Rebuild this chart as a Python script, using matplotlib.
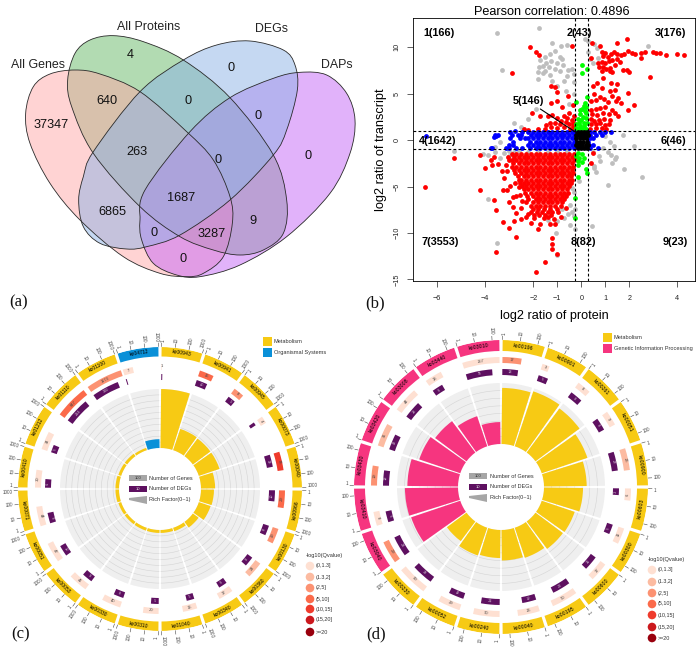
import numpy as np
import matplotlib
matplotlib.use("Agg")
import matplotlib.pyplot as plt
from matplotlib.patches import Rectangle, Polygon, Circle, PathPatch
from matplotlib.path import Path

plt.rcParams['font.family'] = ['Liberation Sans', 'DejaVu Sans']

W, H = 700, 652

# venn
venn_names = ["All Genes", "All Proteins", "DEGs", "DAPs"]
venn_values = [37347, 4, 0, 0, 640, 0, 0, 263, 0, 1687, 6865, 0, 3287, 9, 0]

# scatter - top / side groups as (x, y)
grey_pts = [(-1.75,12.1),(-3.5,11.6),(-1.2,10.5),(-0.85,10.1),(-0.6,10.3),(0.15,10.9),(0.3,10.7),(0.55,10.4),(0.65,9.9),
    (2.8,10.1),(-1.5,9.0),(-1.3,9.3),(-1.1,9.6),(-0.9,9.0),(-0.8,8.7),(-1.7,8.6),(-1.6,8.0),(-1.45,8.3),(-1.25,8.5),
    (-1.0,8.3),(-0.75,8.1),(-1.75,7.9),(-1.5,7.5),(-1.35,7.9),(-1.1,7.7),(-0.9,7.5),(-0.55,7.6),(-0.4,7.7),(-1.8,7.3),
    (-1.6,7.2),(-1.3,7.0),(-0.6,6.9),(-0.3,7.1),(-1.8,6.6),(-1.2,6.4),(-0.7,6.4),(-0.3,6.3),(-1.0,5.8),(-0.65,5.3),
    (-0.3,5.0),(-3.3,7.6),(0.35,8.8),(0.5,8.3),(0.3,9.5),(0.7,8.9),(-2.8,1.9),(-2.2,2.3),(-2.5,1.4),(-1.9,3.4),
    (-0.5,3.9),(1.75,0.6),(2.2,-0.6),(1.0,0.4),(1.2,-0.2),(1.35,-0.6),(0.9,-0.8),(0.5,-1.3),(0.75,-1.7),(1.25,-1.6),
    (1.4,-2.0),(1.3,-2.5),(1.45,-1.8),(0.55,-2.8),(0.8,-2.2),(1.1,-1.3),(1.1,-4.8),(2.55,-4.0),(1.8,-3.1),(0.6,-3.4),
    (-5.3,-1.2),(-4.1,-1.5),(-3.9,-1.6),(-3.6,-1.3),(-3.4,-1.9),(-3.2,-1.4),(-3.0,-1.7),(-2.8,-1.3),(-3.6,-0.7),(-3.4,-0.2),
    (-3.0,-1.2),(-2.6,-1.2),(-2.2,-1.25),(-1.8,-1.2),(-1.4,-1.25),(-1.0,-1.2),(-0.6,-1.2),(-3.9,-6.3),(-3.5,-11.1),
    (-1.0,-12.4),(-1.05,-10.0),(-0.25,-9.6),(0.45,-9.2),(-0.45,-7.0),(-0.4,-7.7),(-0.25,-7.4),(-0.8,-7.4),(-0.55,-8.0),
    (-1.0,-8.7),(-0.45,-9.1),(-0.3,-5.6),(-0.4,-5.2),(-0.1,-4.4),(0.55,-3.0),(-0.7,-8.4),(-1.4,-8.6),(-0.3,-8.2)]

red_pts = [(-2.15,10.0),(-1.9,9.5),(-1.75,9.2),(-0.4,10.2),(-2.9,7.2),(-1.25,5.8),(-1.1,5.7),(-1.0,5.2),(-1.25,4.0),(-1.0,4.2),
    (-0.8,3.6),(-0.55,4.8),(-0.35,3.8),(-2.05,2.9),(-1.7,2.6),(-1.4,2.6),(-1.2,2.7),(-1.0,2.4),(-0.7,2.6),(-0.5,2.9),
    (-0.4,2.2),(-1.3,1.9),(-1.1,1.8),(-0.9,1.7),(-0.65,2.0),(-0.5,1.7),(-0.35,1.5),(-1.25,1.4),(-1.0,1.3),(-0.7,1.4),
    (-0.45,1.2),(-1.5,1.2),(-2.4,1.2),(-2.2,1.1),(-1.8,1.15),(-0.35,1.9),(-0.3,1.2),(-1.45,1.6),(-0.85,2.1),(-0.6,2.4),(-0.3,2.6),
    (0.45,10.5),(0.8,10.2),(1.5,10.5),(1.9,10.9),(0.4,8.9),(0.85,9.5),(0.9,9.1),(1.0,9.4),(1.1,9.0),(1.25,9.3),(1.35,9.5),
    (1.5,9.3),(1.65,9.2),(1.8,9.3),(1.95,9.6),(2.1,9.4),(2.25,9.3),(2.5,9.4),(2.65,9.5),(2.5,8.9),(3.0,9.5),(3.1,9.4),
    (3.3,9.35),(3.55,9.2),(4.0,9.3),(4.3,9.2),(0.7,8.3),(0.85,8.4),(1.0,8.3),(1.15,8.5),(1.3,8.6),(1.5,8.7),(0.75,7.9),
    (0.9,7.9),(1.05,7.7),(1.2,7.8),(1.4,8.1),(1.6,8.4),(0.85,7.5),(1.2,7.5),(1.3,7.4),(1.75,7.6),(1.9,7.6),(2.0,7.4),
    (2.85,6.8),(0.9,6.7),(0.65,6.2),(0.5,5.8),(0.85,5.6),(1.25,6.2),(1.5,6.1),(1.2,5.3),(1.4,5.4),(1.95,5.1),(0.55,5.0),
    (0.4,4.2),(0.6,4.3),(0.8,4.6),(0.95,4.4),(1.1,4.1),(1.3,4.8),(1.45,4.2),(1.55,4.5),(1.65,4.0),(2.2,3.8),(1.95,3.2),
    (0.4,3.2),(0.6,3.4),(0.8,3.5),(1.0,3.6),(1.3,3.3),(1.4,2.9),(1.55,2.6),(0.45,2.8),(0.65,2.7),(0.9,2.9),(1.15,2.8),
    (0.4,2.3),(0.55,2.1),(0.75,2.2),(0.95,2.3),(1.2,2.2),(0.4,1.7),(0.6,1.7),(0.8,1.8),(1.0,1.6),(1.15,1.7),(0.35,1.2),
    (0.6,1.3),(0.85,1.3),(1.05,1.2),(0.5,-1.4),(0.4,-2.5),(-5.3,-1.9),(-6.5,-5.1),(-4.2,-1.6),(-4.0,-3.0),(-3.7,-2.7),
    (-3.65,-1.8),(-3.45,-2.6),(-3.75,-2.1),(-3.15,-2.7),(-3.3,-3.3),(-3.1,-3.3),(-3.2,-4.1),(-4.2,-5.4),(-3.65,-6.4),
    (-3.55,-7.5),(-3.25,-5.4),(-3.1,-5.4),(-3.0,-6.7),(-2.85,-6.1),(-2.7,-6.0),(-2.85,-7.2),(-2.7,-7.9),(-2.5,-7.3),(-3.25,-8.8),
    (-3.0,-9.5),(-2.8,-8.7),(-2.5,-8.5),(-2.7,-10.4),(-3.55,-12.1),(-1.9,-14.2),(-1.5,-13.1),(-1.2,-10.5),(-1.2,-11.2),
    (-1.2,-11.7),(-1.0,-12.3),(-1.8,-9.6),(-1.7,-9.0),(-1.3,-9.0),(-2.3,-8.3),(-2.1,-8.9),(-1.95,-8.4),(-1.55,-8.4),(-1.4,-8.3),
    (-1.15,-8.5),(-0.85,-8.3),(-2.75,-4.6),(-2.95,-4.9),(-2.6,-5.1),(-2.55,-5.9),(-2.45,-6.6),(-1.1,-9.0),(-2.2,-8.0),(-0.65,-7.3)]

# dense part of the red cloud, {y: x values}
red_rows = {
    -1.45: [-2.9,-2.7,-2.5,-2.3,-2.1,-1.9,-1.7,-1.5,-1.3,-1.1,-0.9,-0.7,-0.5,-0.3],
    -1.8: [-3.05,-2.8,-2.6,-2.4,-2.2,-2.0,-1.8,-1.6,-1.4,-1.2,-1.0,-0.8,-0.6,-0.4,-0.28],
    -2.15: [-3.0,-2.9,-2.7,-2.5,-2.3,-2.1,-1.9,-1.7,-1.5,-1.3,-1.1,-0.9,-0.7,-0.5,-0.3],
    -2.5: [-2.85,-2.6,-2.4,-2.2,-2.0,-1.8,-1.6,-1.4,-1.2,-1.0,-0.8,-0.6,-0.4],
    -2.85: [-2.9,-2.7,-2.5,-2.3,-2.1,-1.9,-1.7,-1.5,-1.3,-1.1,-0.9,-0.7,-0.5,-0.33],
    -3.2: [-2.8,-2.6,-2.4,-2.2,-2.0,-1.8,-1.6,-1.4,-1.2,-1.0,-0.8,-0.6,-0.4],
    -3.55: [-2.75,-2.5,-2.3,-2.1,-1.9,-1.7,-1.5,-1.3,-1.1,-0.9,-0.7,-0.5,-0.35],
    -3.9: [-2.65,-2.4,-2.2,-2.0,-1.8,-1.6,-1.4,-1.2,-1.0,-0.8,-0.6,-0.42],
    -4.25: [-2.6,-2.5,-2.3,-2.1,-1.9,-1.7,-1.5,-1.3,-1.1,-0.9,-0.7,-0.5,-0.38],
    -4.6: [-2.55,-2.4,-2.2,-2.0,-1.8,-1.6,-1.4,-1.2,-1.0,-0.8,-0.6,-0.42],
    -4.95: [-2.45,-2.3,-2.1,-1.9,-1.7,-1.5,-1.3,-1.1,-0.9,-0.7,-0.5],
    -5.3: [-2.4,-2.2,-2.0,-1.8,-1.6,-1.4,-1.2,-1.0,-0.8,-0.58],
    -5.65: [-2.35,-2.1,-1.9,-1.7,-1.5,-1.3,-1.1,-0.9,-0.7,-0.55],
    -6.0: [-2.25,-2.0,-1.8,-1.6,-1.4,-1.2,-1.0,-0.8,-0.62],
    -6.35: [-2.2,-1.9,-1.7,-1.5,-1.3,-1.1,-0.9,-0.72],
    -6.7: [-2.3,-2.0,-1.8,-1.6,-1.4,-1.2,-1.0,-0.8],
    -7.05: [-2.1,-1.9,-1.7,-1.5,-1.3,-1.1,-0.85],
    -7.4: [-2.0,-1.8,-1.55,-1.3,-1.0],
    -7.75: [-2.1,-1.85,-1.65,-1.4,-1.2,-0.95],
    -8.1: [-1.95,-1.75,-1.5,-1.25],
}

blue_rows = {
    0.9: [-2.95,-2.45,-2.2,-2.0,-1.8,-1.6,-1.4,-1.2,-1.0,-0.8,-0.6,-0.4,-0.25,0.35,0.55,0.8,1.0,1.25],
    0.55: [-3.6,-3.45,-2.9,-2.65,-2.5,-2.1,-1.9,-1.7,-1.5,-1.3,-1.1,-0.9,-0.7,-0.5,-0.3,0.35,0.6,0.85],
    0.2: [-2.95,-2.55,-2.35,-2.2,-2.0,-1.8,-1.6,-1.4,-1.2,-1.0,-0.8,-0.6,-0.4,-0.25,0.35,0.5],
    -0.15: [-2.85,-2.15,-1.9,-1.7,-1.5,-1.3,-1.1,-0.9,-0.7,-0.5,-0.3,0.3],
    -0.5: [-3.0,-2.85,-2.2,-2.0,-1.8,-1.6,-1.4,-1.2,-1.0,-0.8,-0.6,-0.4,-0.25,0.32,0.5],
    -0.85: [-3.75,-3.15,-3.0,-2.7,-2.45,-2.15,-1.9,-1.7,-1.5,-1.3,-1.1,-0.9,-0.7,-0.5,-0.3,0.35,0.7],
}
blue_extra = [(-6.45,0.5),(-3.55,0.5),(-3.65,0.3),(-3.7,-0.8),(-2.75,0.95)]

black_rows = {
    0.9: [-0.15,-0.02,0.1,0.22],
    0.55: [-0.2,-0.08,0.04,0.16,0.26],
    0.2: [-0.2,-0.06,0.08,0.2],
    -0.15: [-0.18,-0.05,0.08,0.22],
    -0.5: [-0.2,-0.08,0.05,0.18,0.27],
    -0.85: [-0.15,-0.02,0.1,0.22],
}

green_pts = [(0.05,8.1),(0.25,7.7),(0.05,7.2),(-0.22,4.1),(0.25,4.6),(0.15,4.0),(0.1,3.7),(0.2,3.6),(0.05,3.4),(-0.05,3.3),(0.15,3.1),
    (0.2,2.9),(-0.05,2.8),(0.08,2.5),(0.2,2.4),(-0.15,2.3),(0.0,2.2),(-0.08,1.9),(0.1,1.9),(0.22,1.8),(-0.2,1.7),(-0.05,1.5),
    (0.12,1.5),(-0.22,1.3),(-0.1,1.2),(0.05,1.2),(0.2,1.2),
    (-0.12,-1.4),(0.05,-1.5),(-0.2,-1.7),(-0.08,-1.9),(0.1,-1.9),(-0.15,-2.2),(0.05,-2.3),(-0.15,-2.7),(0.2,-3.1),(0.22,-3.5),
    (-0.15,-4.0),(-0.25,-6.2),(-0.25,-8.4)]

quad_labels = ["1(166)", "2(43)", "3(176)", "4(1642)", "6(46)", "7(3553)", "8(82)", "9(23)"]
quad_x = [-5.93, -0.1, 3.72, -6.0, 3.86, -5.89, 0.08, 3.9]
quad_y = [11.6, 11.6, 11.6, -0.1, -0.1, -11.0, -11.0, -11.0]

# circos panels
q_colors = ["#fee0d2", "#fcbba1", "#fc9272", "#fb6a4a", "#ef3b2c", "#cb181d", "#99000d"]
q_labels = ["(0,1.3]", "(1.3,2]", "(2,5]", "(5,10]", "(10,15]", "(15,20]", ">=20"]

c_terms = ["ko00943","ko00941","ko00945","ko00073","ko00040","ko00966","ko00130","ko00360","ko00340","ko01040",
           "ko00310","ko00330","ko00053","ko00051","ko00071","ko00410","ko01212","ko01110","ko01100","ko04712"]
c_genes = [1,16,8,4,36,29,19,24,17,16,20,40,41,47,44,30,34,647,1173,7]
c_degs = [1,10,5,2,13,10,8,8,6,5,5,8,9,10,9,6,5,214,300,1]
c_q = [0,3,2,0,4,3,2,1,0,0,0,0,0,0,0,0,0,3,2,0]
c_rich = [1.0,0.38,0.37,0.37,0.24,0.22,0.21,0.12,0.06,0.05,0.05,0.05,0.05,0.05,0.06,0.06,0.05,0.05,0.04,0.15]
c_class = [0]*19 + [1]

d_terms = ["ko00196","ko00901","ko00261","ko00051","ko00900","ko00603","ko00300","ko00600","ko00195","ko00040",
           "ko00240","ko00052","ko00230","ko03040","ko03410","ko03430","ko03420","ko03008","ko03440","ko03010"]
d_genes = [17,3,8,9,26,6,11,17,50,26,50,29,90,29,8,19,31,44,13,257]
d_degs = [13,5,8,8,22,3,5,11,20,10,21,12,33,28,6,12,13,18,6,76]
d_q = [2,0,0,0,1,0,0,0,0,0,0,0,0,2,0,2,1,0,0,0]
d_rich = [0.92,0.95,0.9,0.79,0.7,0.64,0.57,0.56,0.52,0.5,0.46,0.48,0.4,0.85,0.87,0.83,0.71,0.64,0.52,0.36]
d_class = [0]*13 + [1]*7

YELLOW = "#f7ca14"
BLUE = "#0a90d8"
PINK = "#f6357f"
PURPLE = "#5e1060"


def points(pts):
    return [p[0] for p in pts], [p[1] for p in pts]


def rows(d):
    xs, ys = [], []
    for y, vals in d.items():
        xs += vals
        ys += [y] * len(vals)
    return xs, ys


def blob(outline):
    # closed smooth outline through the traced points
    p = np.array(outline, dtype=float) / 3.0
    n = len(p)
    verts = [p[0]]
    codes = [Path.MOVETO]
    for i in range(n):
        p0, p1, p2, p3 = p[i-1], p[i], p[(i+1) % n], p[(i+2) % n]
        verts += [p1 + (p2-p0)/6, p2 - (p3-p1)/6, p2]
        codes += [Path.CURVE4]*3
    return Path(verts, codes)


def tangent_rot(deg):
    # text along the ring, flipped on the lower half
    deg = deg % 360
    if 90 < deg < 270:
        return 180 - deg
    return -deg


def draw_circle(cx, cy, R, ring_w, gene_r, deg_r, r_in, r_out, terms, genes, degs, qcls, rich, cls, cols,
                tick_vals, tick_max, n_grid, tick_fs, label_fs):
    ax = fig.add_axes([(cx-R)/W, 1-(cy+R)/H, 2*R/W, 2*R/H], projection='polar')
    ax.set_theta_zero_location('N')
    ax.set_theta_direction(-1)
    ax.set_ylim(0, R)
    ax.axis('off')
    step = 18.0
    gap = 1.3
    span = step - gap
    for i in range(len(terms)):
        start = i * step + gap / 2
        mid = start + span / 2
        ax.bar(np.radians(start), ring_w, np.radians(span), bottom=R-ring_w, align='edge',
               color=cols[cls[i]], linewidth=0)
        ax.text(np.radians(mid), R-ring_w/2, terms[i], rotation=tangent_rot(mid), rotation_mode='anchor',
                ha='center', va='center', fontsize=label_fs, color='black')
        # log scale ticks
        for v in tick_vals:
            t = start + span * np.log10(v) / np.log10(tick_max)
            ax.plot([np.radians(t)]*2, [R+0.5, R+4], color='#444444', lw=0.4, clip_on=False)
            # nudge end labels apart, neighbours' 1 and 1000 sit close together
            tl = t + (0.7 if v == 1 else 0) - (0.7 if v == 1000 else 0)
            if tl % 360 < 180:
                rot, ha = 90 - tl, 'left'
            else:
                rot, ha = 270 - tl, 'right'
            ax.text(np.radians(tl), R+5.5, str(v), rotation=rot, rotation_mode='anchor', ha=ha, va='center',
                    fontsize=tick_fs, color='#444444')
        # genes and degs
        gw = max(span * np.log10(genes[i]) / np.log10(tick_max), 0.25)
        ax.bar(np.radians(start), 6, np.radians(gw), bottom=gene_r-3, align='edge',
               color=q_colors[qcls[i]], linewidth=0)
        lab_t = start + gw/2 if genes[i] > 1 else start + 0.3
        lab_r = gene_r if genes[i] > 1 else gene_r + 0.5
        ax.text(np.radians(lab_t), lab_r, str(genes[i]), rotation=tangent_rot(lab_t), rotation_mode='anchor',
                ha='center', va='center', fontsize=tick_fs-0.3, color='#444444')
        dw = max(span * np.log10(degs[i]) / np.log10(tick_max), 0.5)
        ax.bar(np.radians(start), 6, np.radians(dw), bottom=deg_r-3, align='edge', color=PURPLE, linewidth=0)
        if degs[i] > 2:
            ax.text(np.radians(start+dw/2), deg_r, str(degs[i]), rotation=tangent_rot(start+dw/2),
                    rotation_mode='anchor', ha='center', va='center', fontsize=tick_fs-0.5, color='#d8c8d8')
        # rich factor track
        ax.bar(np.radians(start), r_out-r_in, np.radians(span), bottom=r_in, align='edge', color='#efefef', linewidth=0)
        th = np.radians(np.linspace(start, start+span, 20))
        for k in range(1, n_grid):
            ax.plot(th, [r_in + (r_out-r_in)*k/n_grid]*20, color='#d4d4d4', lw=0.4)
        ax.bar(np.radians(start), (r_out-r_in)*rich[i], np.radians(span), bottom=r_in, align='edge',
               color=cols[cls[i]], linewidth=0, zorder=3)


fig = plt.figure(figsize=(W/100, H/100), dpi=100)

# background axis in pixel coordinates for the venn, legends and panel letters
bg = fig.add_axes([0, 0, 1, 1])
bg.set_xlim(0, W)
bg.set_ylim(H, 0)
bg.axis('off')

# (a) venn, outlines
pink_line = [(225,210),(300,222),(420,275),(560,395),(640,480),(690,590),(697,670),(670,770),(610,820),(560,830),(480,820),
             (370,770),(240,660),(150,550),(90,430),(77,340),(100,260),(150,222)]
green_line = [(340,107),(430,125),(550,180),(690,293),(820,465),(860,600),(850,700),(790,750),(720,765),(640,750),(540,710),
              (420,620),(280,460),(215,320),(203,240),(225,160),(270,120)]
blue_line = [(750,123),(850,150),(885,195),(892,270),(860,390),(820,465),(690,600),(540,705),(440,740),(380,747),(300,730),
             (250,680),(236,600),(250,530),(280,455),(420,275),(550,180),(650,135)]
purple_line = [(900,217),(980,225),(1040,280),(1065,360),(1050,460),(990,580),(860,710),(720,795),(600,830),(530,825),(460,790),
               (425,720),(420,660),(435,570),(570,395),(690,293),(820,235)]
venn_order = [green_line, pink_line, purple_line, blue_line]
venn_fill = [(0.40, 0.72, 0.40, 0.5), (1.0, 0.66, 0.66, 0.5), (0.77, 0.40, 0.97, 0.5), (0.55, 0.70, 0.90, 0.5)]
for line, col in zip(venn_order, venn_fill):
    bg.add_patch(PathPatch(blob(line), facecolor=col, edgecolor='none'))
for line in venn_order:
    bg.add_patch(PathPatch(blob(line), facecolor='none', edgecolor='#2a2a2a', lw=0.6))
name_xy = [(38, 65), (149, 27), (271, 29), (337, 65)]
for n, xy in zip(venn_names, name_xy):
    bg.text(xy[0], xy[1], n, fontsize=8.9, ha='center', va='center', color='#222222')
value_xy = [(51, 125), (130, 55), (231, 68), (308, 156), (107, 101), (188, 101), (258, 116), (137, 152), (218, 160),
            (181, 198), (112, 212), (154, 233), (212, 234), (253, 221), (183, 259)]
for v, xy in zip(venn_values, value_xy):
    bg.text(xy[0], xy[1], str(v), fontsize=9.2, ha='center', va='center', color='#111111')

# panel letters
for s, xy in zip(["(a)", "(b)", "(c)", "(d)"], [(19, 302), (375, 303), (21, 634), (376, 634)]):
    bg.text(xy[0], xy[1], s, family=['Liberation Serif'], fontsize=12, ha='center', va='center', color='#111111')

# (b) scatter
ax = fig.add_axes([413.3/W, 1-281/H, (695-413.3)/W, (281-17.7)/H])
ax.set_xlim(-7.0, 4.74)
ax.set_ylim(-15.18, 13.2)
ms = 12
x, y = points(grey_pts)
ax.scatter(x, y, s=ms, color='#bebebe', linewidths=0, zorder=2)
x, y = points(red_pts)
ax.scatter(x, y, s=ms, color='#ff0000', linewidths=0, zorder=3)
x, y = rows(red_rows)
ax.scatter(x, y, s=ms, color='#ff0000', linewidths=0, zorder=3)
x, y = rows(blue_rows)
ax.scatter(x, y, s=ms, color='#0000ff', linewidths=0, zorder=4)
x, y = points(blue_extra)
ax.scatter(x, y, s=ms, color='#0000ff', linewidths=0, zorder=4)
x, y = points(green_pts)
ax.scatter(x, y, s=ms, color='#00ff00', linewidths=0, zorder=5)
x, y = rows(black_rows)
ax.scatter(x, y, s=ms, color='black', linewidths=0, zorder=6)
for v in [-0.26, 0.26]:
    ax.axvline(v, color='black', lw=0.8, ls=(0, (2.5, 2)), zorder=7)
for v in [-1, 1]:
    ax.axhline(v, color='black', lw=0.8, ls=(0, (2.5, 2)), zorder=7)
for s, a, b in zip(quad_labels, quad_x, quad_y):
    ax.text(a, b, s, fontsize=7.8, fontweight='bold', ha='center', va='center', zorder=8)
ax.annotate("5(146)", xy=(-0.2, 0.8), xytext=(-2.2, 4.2), fontsize=7.8, fontweight='bold', ha='center', va='center',
            zorder=8, arrowprops=dict(arrowstyle='-', color='black', lw=0.8, shrinkA=0, shrinkB=0))
ax.set_xticks([-6, -4, -2, -1, 0, 1, 2, 4])
ax.set_xticklabels(["\u22126", "\u22124", "\u22122", "\u22121", "0", "1", "2", "4"])
ax.set_yticks([-15, -10, -5, 0, 5, 10])
ax.set_yticklabels(["\u221215", "\u221210", "\u22125", "0", "5", "10"], rotation=90, va='center')
ax.tick_params(labelsize=5.2, length=4, width=0.5, colors='#222222')
ax.tick_params(axis='x', pad=6)
ax.tick_params(axis='y', pad=5)
for sp in ax.spines.values():
    sp.set_linewidth(0.6)
ax.set_xlabel("log2 ratio of protein", fontsize=9.1, labelpad=6)
ax.set_ylabel("log2 ratio of transcript", fontsize=9.2, labelpad=5)
ax.set_title("Pearson correlation: 0.4896", fontsize=9.1, pad=-1.5, x=0.49, zorder=9)

# (c)
draw_circle(160, 489, 142, 9.5, 122, 112, 41, 100, c_terms, c_genes, c_degs, c_q, c_rich, c_class, [YELLOW, BLUE],
            [1, 10, 100, 1000], 1000, 10, 3.3, 3.6)
# (d)
draw_circle(501, 487, 147, 11, 127, 115, 43, 104, d_terms, d_genes, d_degs, d_q, d_rich, d_class, [YELLOW, PINK],
            [1, 10, 100], 257, 8, 3.3, 3.8)

# legends of the circos panels
fig_leg = fig.add_axes([0, 0, 1, 1], zorder=10)
fig_leg.set_xlim(0, W)
fig_leg.set_ylim(H, 0)
fig_leg.axis('off')


def center_legend(x0, y0, txt_x):
    fig_leg.add_patch(Rectangle((x0, y0), 18, 6, color='#a6a6a6', lw=0))
    fig_leg.text(x0+9, y0+3, "100", fontsize=3, ha='center', va='center', color='#333333')
    fig_leg.text(txt_x, y0+3, "Number of Genes", fontsize=4.0, va='center', color='#333333')
    fig_leg.add_patch(Rectangle((x0, y0+11), 18, 6, color=PURPLE, lw=0))
    fig_leg.text(x0+9, y0+14, "10", fontsize=3, ha='center', va='center', color='#dddddd')
    fig_leg.text(txt_x, y0+14, "Number of DEGs", fontsize=4.0, va='center', color='#333333')
    fig_leg.add_patch(Polygon([(x0, y0+23), (x0+18, y0+21), (x0+18, y0+29), (x0, y0+25)], color='#a6a6a6', lw=0))
    fig_leg.text(txt_x, y0+25, "Rich Factor(0~1)", fontsize=4.0, va='center', color='#333333')


def class_legend(x, y, names, cols):
    for i in range(len(names)):
        fig_leg.add_patch(Rectangle((x, y+i*11.3), 8.5, 8.5, color=cols[i], lw=0))
        fig_leg.text(x+11, y+i*11.3+4.2, names[i], fontsize=4.1, va='center', color='#333333')


def q_legend(title_x, title_y, x, ys, lab_x):
    fig_leg.text(title_x, title_y, "-log10(Qvalue)", fontsize=4.1, va='center', color='#333333')
    for yy, col, s in zip(ys, q_colors, q_labels):
        fig_leg.add_patch(Circle((x, yy), 4.3, color=col, lw=0))
        fig_leg.text(lab_x, yy, s, fontsize=3.9, va='center', color='#333333')


center_legend(129, 475, 149)
center_legend(469, 473, 490)
class_legend(263, 337, ["Metabolism", "Organismal Systems"], [YELLOW, BLUE])
class_legend(603, 333, ["Metabolism", "Genetic Information Processing"], [YELLOW, PINK])
q_legend(306, 556, 310, [566, 577, 588, 599, 609, 620, 632], 316)
q_legend(648, 560, 652, [570, 582, 593, 604, 615, 627, 638], 658)

fig.savefig("out.png", dpi=100)
